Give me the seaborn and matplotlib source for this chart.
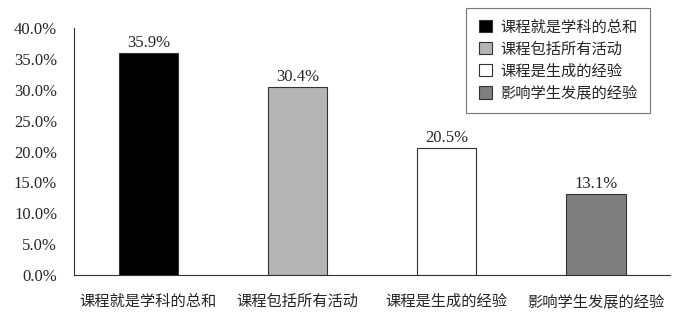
import matplotlib
matplotlib.use("Agg")
import matplotlib.pyplot as plt
import seaborn as sns
import pandas as pd
from matplotlib.ticker import FuncFormatter
from matplotlib.patches import Patch

categories = ["课程就是学科的总和", "课程包括所有活动", "课程是生成的经验", "影响学生发展的经验"]
values = [35.9, 30.4, 20.5, 13.1]
colors = ["#000000", "#b5b5b5", "#ffffff", "#7f7f7f"]

sns.set_style("white")
plt.rcParams['font.family'] = ['Liberation Serif', 'Noto Sans CJK SC']

df = pd.DataFrame({"cat": categories, "val": values})

fig = plt.figure(figsize=(6.84, 3.15), dpi=100)
ax = fig.add_axes([0.108, 0.127, 0.872, 0.784])
sns.barplot(data=df, x="cat", y="val", hue="cat", palette=colors, width=0.4,
            edgecolor="#333333", linewidth=0.8, legend=False, ax=ax)

for i, v in enumerate(values):
    ax.text(i, v + 0.4, f"{v:.1f}%", ha="center", va="bottom", fontsize=12)

ax.set_ylim(0, 40)
ax.set_xlim(-0.5, 3.5)
ax.set_yticks([0, 5, 10, 15, 20, 25, 30, 35, 40])
ax.yaxis.set_major_formatter(FuncFormatter(lambda v, p: f"{v:.1f}%"))
ax.set_xticks([-0.5, 0.5, 1.5, 2.5, 3.5], minor=False)
ax.set_xticklabels([])
ax.set_xticks([0, 1, 2, 3], minor=True)
ax.set_xticklabels(categories, minor=True, fontsize=11)
ax.tick_params(axis="x", which="major", direction="in", length=4, width=0.8, color="#333333")
ax.tick_params(axis="x", which="minor", length=0, pad=14)
ax.tick_params(axis="y", direction="in", length=4, width=0.8, color="#333333", labelsize=12, pad=12)
ax.set_xlabel("")
ax.set_ylabel("")
for s in ["top", "right"]:
    ax.spines[s].set_visible(False)
for s in ["left", "bottom"]:
    ax.spines[s].set_color("#333333")
    ax.spines[s].set_linewidth(0.8)

handles = [Patch(facecolor=c, edgecolor="#333333", linewidth=0.8) for c in colors]
leg = fig.legend(handles, categories, loc="upper left", bbox_to_anchor=(0.682, 0.975),
                 frameon=True, fancybox=False, edgecolor="#555555", fontsize=11,
                 handlelength=0.85, handleheight=0.85, handletextpad=0.55,
                 labelspacing=0.5, borderpad=0.8, borderaxespad=0)
leg.get_frame().set_linewidth(0.8)

fig.savefig("out.png", dpi=100)
